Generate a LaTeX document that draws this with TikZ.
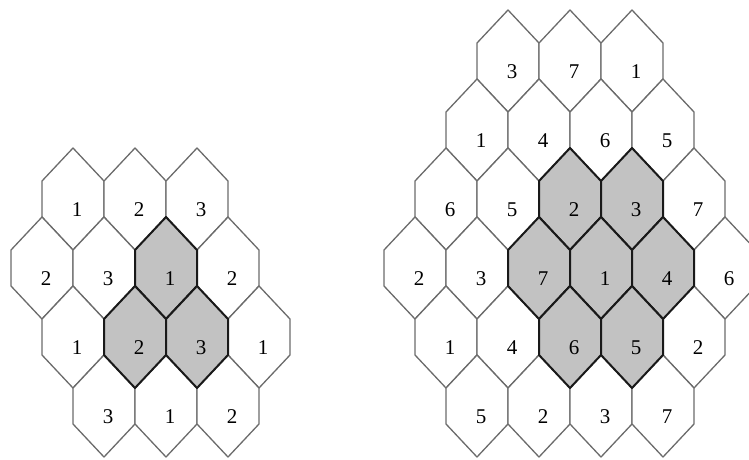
\documentclass[tikz,border=0pt]{standalone}
\usepackage{fontspec}
\setmainfont{Liberation Serif}
\tikzset{
  hexcell/.style={draw=black!58, line width=1.3pt, line join=round, fill=white},
  hexshade/.style={draw=black!90, line width=2pt, line join=round, fill=black!24},
  hexlabel/.style={font=\fontsize{21}{21}\selectfont, text=black, inner sep=0pt},
}
\newcommand\hexat[5]{%
  \path[#4] (#1,#2) -- ++(31,33) -- ++(0,36) -- ++(-31,33) -- ++(-31,-33) -- ++(0,-36) -- cycle;
  \node[hexlabel] (#5) at (#1+4,#2+62) {#3};
}
\begin{document}
\begin{tikzpicture}[x=1pt,y=-1pt]
\useasboundingbox (0,0) rectangle (749,459);
\clip (0,0) rectangle (749,459);
% left cluster
\foreach \cx/\ay/\lab/\nm in {73/148/1/La1, 135/148/2/La2, 197/148/3/La3,
  42/217/2/Lb1, 104/217/3/Lb2, 228/217/2/Lb4,
  73/286/1/Lc1, 259/286/1/Lc4,
  104/355/3/Ld1, 166/355/1/Ld2, 228/355/2/Ld3}
  {\hexat{\cx}{\ay}{\lab}{hexcell}{\nm}}
\foreach \cx/\ay/\lab/\nm in {166/217/1/Lb3, 135/286/2/Lc2, 197/286/3/Lc3}
  {\hexat{\cx}{\ay}{\lab}{hexshade}{\nm}}
% right cluster
\foreach \cx/\ay/\lab/\nm in {508/10/3/Ra1, 570/10/7/Ra2, 632/10/1/Ra3,
  477/79/1/Rb1, 539/79/4/Rb2, 601/79/6/Rb3, 663/79/5/Rb4,
  446/148/6/Rc1, 508/148/5/Rc2, 694/148/7/Rc5,
  415/217/2/Rd1, 477/217/3/Rd2, 725/217/6/Rd6,
  446/286/1/Re1, 508/286/4/Re2, 694/286/2/Re5,
  477/355/5/Rf1, 539/355/2/Rf2, 601/355/3/Rf3, 663/355/7/Rf4}
  {\hexat{\cx}{\ay}{\lab}{hexcell}{\nm}}
\foreach \cx/\ay/\lab/\nm in {570/148/2/Rc3, 632/148/3/Rc4,
  539/217/7/Rd3, 601/217/1/Rd4, 663/217/4/Rd5,
  570/286/6/Re3, 632/286/5/Re4}
  {\hexat{\cx}{\ay}{\lab}{hexshade}{\nm}}
\end{tikzpicture}
\end{document}
